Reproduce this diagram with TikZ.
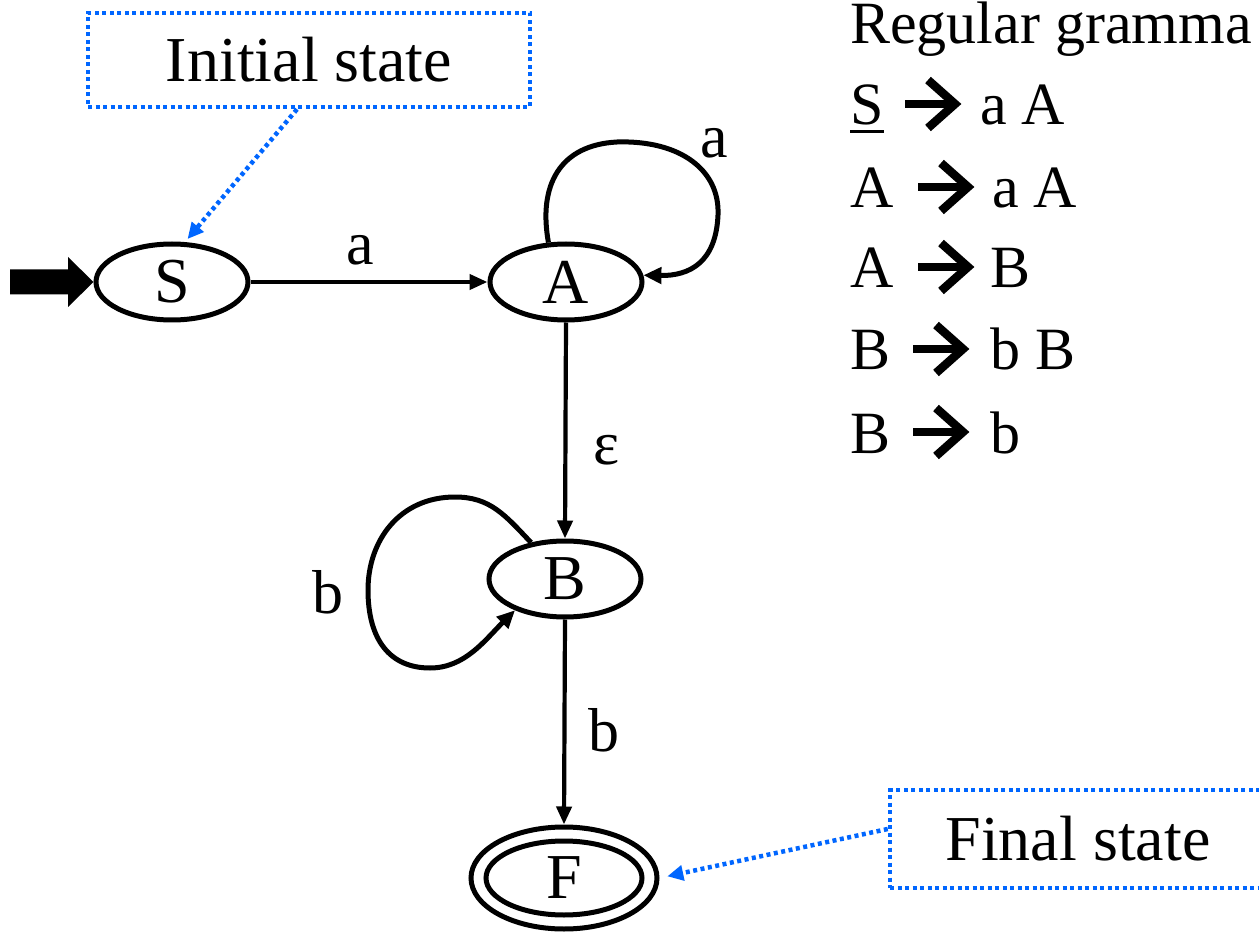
\documentclass[tikz,border=0pt]{standalone}
\usepackage{fontspec}
\setmainfont{Liberation Serif}
\usetikzlibrary{arrows.meta,shapes.geometric}
\definecolor{hl}{RGB}{0,102,255}
\begin{document}
\begin{tikzpicture}[x=1pt,y=-1pt,
  state/.style={ellipse,draw,line width=5pt,minimum width=152pt,minimum height=76pt,inner sep=0pt,font=\fontsize{64}{64}\selectfont},
  edge/.style={line width=4.2pt,-{Triangle[length=18pt,width=15pt]}},
  loopedge/.style={line width=5pt,-{Triangle[length=18pt,width=16pt]}},
  lbl/.style={inner sep=0pt,font=\fontsize{62}{62}\selectfont},
  note/.style={draw=hl,line width=4.5pt,dash pattern=on 4pt off 3.5pt,inner sep=0pt,font=\fontsize{64}{64}\selectfont},
  notearrow/.style={draw=hl,line width=4.5pt,dash pattern=on 4pt off 3.5pt,-{Triangle[length=16pt,width=15pt]}},
  gtext/.style={inner sep=0pt,anchor=base west,font=\fontsize{60}{60}\selectfont},
  garrow/.pic={\draw[line width=7.5pt] (-26,0) -- (20,0);
               \draw[line width=8.5pt,line join=miter] (-3,-24) -- (24,0) -- (-3,24);}
]
\clip (0,0) rectangle (1259,933);
\fill[white] (0,0) rectangle (1259,933);

% states
\node[state] (S) at (172,282) {S};
\node[state] (A) at (566,282) {A};
\node[state] (B) at (565,579) {B};
\node[ellipse,draw,line width=5pt,minimum width=186pt,minimum height=102pt,inner sep=0pt] (F) at (564,878) {};
\node[state,minimum width=156pt,minimum height=74pt] (Fin) at (564,878) {F};

% initial arrow
\coordinate (in0) at (10,282);
\fill (in0) ++(0,-12.5) -- (68,269.5) -- (68,257) -- (S.west) -- (68,307) -- (68,294.5) -- (10,294.5) -- cycle;

% transitions
\draw[edge] (S.east) -- (A.west);
\node[lbl] (la) at (360,250) {a};
\draw[edge] (A.south) -- (B.north);
\node[lbl] (leps) at (607,450) {ε};
\draw[edge] (B.south) -- (F.north);
\node[lbl] (lb2) at (604,730) {b};

\draw[loopedge] (A.114) .. controls (538,185) and (560,145) .. (617,142)
  .. controls (680,140) and (720,170) .. (718,215)
  .. controls (716,262) and (690,276) .. (A.5);
\node[lbl] (la2) at (714,143) {a};

\draw[loopedge] (B.133) .. controls (505,515) and (490,497) .. (455,497)
  .. controls (400,497) and (368,540) .. (368,590)
  .. controls (368,640) and (390,668) .. (430,668)
  .. controls (465,668) and (485,640) .. (B.212);
\node[lbl] (lb1) at (328,592) {b};

% notes
\node[note,minimum width=442pt,minimum height=94pt] (ini) at (309,60) {Initial state};
\draw[notearrow,shorten >=4pt] ([xshift=-12pt]ini.south) -- (S.72);
\node[note,minimum width=376pt,minimum height=98pt] (fin) at (1078,839) {Final state};
\draw[notearrow,shorten >=8pt] ([yshift=10pt]fin.west) -- (F.east);

% grammar
\node[gtext] (g0) at (850,44) {Regular gramma};
\node[gtext] (g1l) at (850,125) {S};
\draw[line width=3pt] ([yshift=-7pt]g1l.base west) -- ([yshift=-7pt]g1l.base east);
\pic at (931,104) {garrow};
\node[gtext] (g1r) at (980,125) {a A};
\node[gtext] (g2l) at (850,208) {A};
\pic at (944,187) {garrow};
\node[gtext] (g2r) at (992,208) {a A};
\node[gtext] (g3l) at (850,288) {A};
\pic at (944,267) {garrow};
\node[gtext] (g3r) at (990,288) {B};
\node[gtext] (g4l) at (850,370) {B};
\pic at (939,349) {garrow};
\node[gtext] (g4r) at (990,370) {b B};
\node[gtext] (g5l) at (850,453) {B};
\pic at (939,432) {garrow};
\node[gtext] (g5r) at (990,453) {b};
\end{tikzpicture}
\end{document}
